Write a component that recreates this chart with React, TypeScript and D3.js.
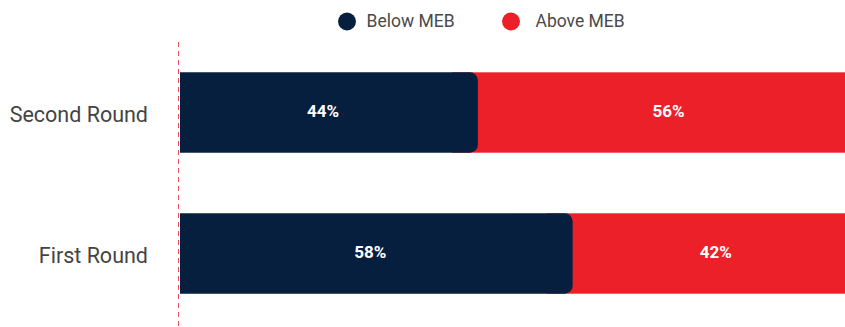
import React from "react";
import * as d3 from "d3";

const categories = ["Second Round", "First Round"];
const belowMEB = [44, 58];
const aboveMEB = [56, 42];
const seriesNames = ["Below MEB", "Above MEB"];
const colors = ["#061f3f", "#ec2028"];

const W = 845;
const H = 327;

export default function App() {
  const x = d3.scaleLinear().domain([0, 100]).range([180, 857]);
  const y = d3.scaleBand().domain(categories).range([42, 324]).paddingInner(0.43).paddingOuter(0.215);
  const bh = y.bandwidth();
  const r = 8;
  const font = "Roboto, 'Noto Sans', sans-serif";

  const darkPath = (x0: number, x1: number, y0: number, h: number) => {
    const p = d3.path();
    p.moveTo(x0, y0);
    p.lineTo(x1 - r, y0);
    p.arcTo(x1, y0, x1, y0 + r, r);
    p.lineTo(x1, y0 + h - r);
    p.arcTo(x1, y0 + h, x1 - r, y0 + h, r);
    p.lineTo(x0, y0 + h);
    p.closePath();
    return p.toString();
  };

  return (
    <div style={{ position: "absolute", left: 0, top: 0, width: W, height: H, overflow: "hidden" }}>
      <svg width={W} height={H} style={{ display: "block" }}>
        <rect width={W} height={H} fill="#ffffff" />
        {/* legend */}
        <g fontFamily={font} fontSize={17.5} fill="#4a4a4a">
          <circle cx={347} cy={21.5} r={9} fill={colors[0]} />
          <text x={366.5} y={27.3}>{seriesNames[0]}</text>
          <circle cx={511} cy={21.5} r={9} fill={colors[1]} />
          <text x={535.5} y={27.3}>{seriesNames[1]}</text>
        </g>
        {categories.map((c, i) => {
          const y0 = y(c)!;
          const cy = y0 + bh / 2;
          const x1 = x(belowMEB[i]);
          return (
            <g key={c}>
              <rect x={x1 - 26} y={y0} width={x(100) - (x1 - 26)} height={bh} fill={colors[1]} />
              <path d={darkPath(x(0), x1, y0, bh)} fill={colors[0]} />
              <text
                x={x(belowMEB[i] / 2) - 6}
                y={cy + 4.8}
                textAnchor="middle"
                fontFamily={font}
                fontWeight={700}
                fontSize={17}
                fill="#ffffff"
              >
                {belowMEB[i]}%
              </text>
              <text
                x={(x1 + x(100)) / 2 + 1}
                y={cy + 4.8}
                textAnchor="middle"
                fontFamily={font}
                fontWeight={700}
                fontSize={17}
                fill="#ffffff"
              >
                {aboveMEB[i]}%
              </text>
              <text
                x={148}
                y={cy + 9}
                textAnchor="end"
                fontFamily={font}
                fontSize={21.5}
                fill="#444444"
              >
                {c}
              </text>
            </g>
          );
        })}
        <line x1={178.5} x2={178.5} y1={42} y2={H} stroke="#f2505e" strokeWidth={1} strokeDasharray="5,4" />
      </svg>
    </div>
  );
}
